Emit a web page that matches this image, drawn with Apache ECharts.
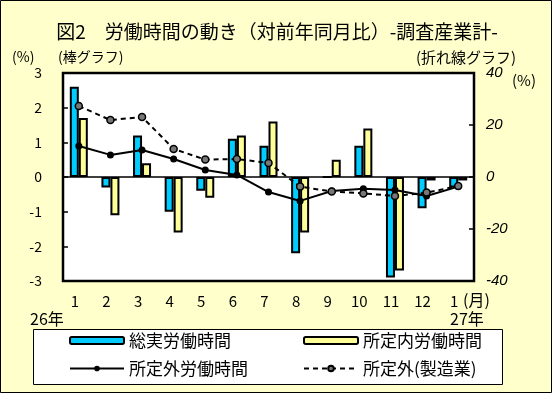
<!DOCTYPE html>
<html><head><meta charset="utf-8">
<script src="https://cdn.jsdelivr.net/npm/echarts@6/dist/echarts.min.js"></script>
<style>html,body{margin:0;padding:0;background:#FFFFCC;}#c{width:552px;height:393px;}</style>
</head><body><div id="c"></div>
<script>
const months = ['1','2','3','4','5','6','7','8','9','10','11','12','1'];
const totalHours = [2.6,-0.3,1.2,-1.0,-0.4,1.1,0.9,-2.2,0.0,0.9,-2.9,-0.9,-0.3];
const scheduledHours = [1.7,-1.1,0.4,-1.6,-0.6,1.2,1.6,-1.6,0.5,1.4,-2.7,-0.1,-0.1];
const overtimeHours = [11.9,8.5,10.4,6.9,2.7,0.8,-5.8,-9.2,-5.4,-4.5,-5.0,-7.3,-3.7];
const overtimeMfg = [27.3,21.9,23.1,10.8,6.7,6.9,5.4,-3.7,-5.6,-6.3,-7.3,-6.0,-3.5];
const leftTicks = [-3,3,1];
const rightTicks = [-40,40,20];

const FONT = '"Noto Sans CJK JP", sans-serif';
const chart = echarts.init(document.getElementById('c'));
chart.setOption({
  backgroundColor: '#FFFFCC',
  animation: false,
  textStyle: {fontFamily: FONT},
  grid: {left: 63, right: 78, top: 73, bottom: 112, show: true, backgroundColor: '#fff', borderColor: '#000', borderWidth: 2.5},
  graphic: [
    {type:'rect', shape:{x:0.5,y:0.5,width:551,height:392}, style:{fill:null, stroke:'#000', lineWidth:1}, z:-1},
    {type:'text', x:277, y:32, style:{text:'図2　労働時間の動き（対前年同月比）-調査産業計-', font:'19px '+FONT, fill:'#000', align:'center', verticalAlign:'middle'}},
    {type:'text', x:12, y:57, style:{text:'(%)', font:'14px '+FONT, fill:'#000', verticalAlign:'middle'}},
    {type:'text', x:58, y:57, style:{text:'(棒グラフ)', font:'14px '+FONT, fill:'#000', verticalAlign:'middle'}},
    {type:'text', x:416, y:57, style:{text:'(折れ線グラフ)', font:'15px '+FONT, fill:'#000', verticalAlign:'middle'}},
    {type:'text', x:512, y:80, style:{text:'(%)', font:'15px '+FONT, fill:'#000', verticalAlign:'middle'}},
    {type:'text', x:463, y:300, style:{text:'(月)', font:'16px '+FONT, fill:'#000', verticalAlign:'middle'}},
    {type:'text', x:30, y:319, style:{text:'26年', font:'16px '+FONT, fill:'#000', verticalAlign:'middle'}},
    {type:'text', x:450, y:319, style:{text:'27年', font:'16px '+FONT, fill:'#000', verticalAlign:'middle'}},
    {type:'rect', shape:{x:33.5,y:329.5,width:469,height:55}, style:{fill:'#fff', stroke:'#000', lineWidth:1}, z:0}
  ],
  legend: [
    {data:['総実労働時間','所定外労働時間'], orient:'vertical', left:64, top:327, itemWidth:54, itemHeight:7, itemGap:11,
     textStyle:{fontSize:17, fontFamily:FONT, color:'#000'}, z:5},
    {data:['所定内労働時間','所定外(製造業)'], orient:'vertical', left:298, top:327, itemWidth:54, itemHeight:7, itemGap:11,
     textStyle:{fontSize:17, fontFamily:FONT, color:'#000'}, z:5}
  ],
  xAxis: {type:'category', data: months, axisTick:{show:false},
    axisLine:{lineStyle:{color:'#000', width:1.5}},
    axisLabel:{color:'#000', fontSize:15, margin:13, fontFamily:FONT, interval:0, padding:[0,8,0,0]}},
  yAxis: [
    {type:'value', min:leftTicks[0], max:leftTicks[1], interval:leftTicks[2], splitLine:{show:false},
     axisLine:{show:false}, axisTick:{show:true, inside:true, length:5, lineStyle:{color:'#000', width:1.5}},
     axisLabel:{color:'#000', fontSize:14, margin:21, fontFamily:FONT}},
    {type:'value', min:rightTicks[0], max:rightTicks[1], interval:rightTicks[2], splitLine:{show:false},
     axisLine:{show:false}, axisTick:{show:true, inside:true, length:5, lineStyle:{color:'#000', width:1.5}},
     axisLabel:{color:'#000', fontSize:15, margin:12, fontStyle:'italic', fontFamily:'"Liberation Sans", sans-serif'}}
  ],
  series: [
    {name:'総実労働時間', type:'bar', data: totalHours, barWidth:9, barGap:'0%',
     itemStyle:{color:'#00CCFF', borderColor:'#000', borderWidth:2}},
    {name:'所定内労働時間', type:'bar', data: scheduledHours, barWidth:9, barGap:'0%',
     itemStyle:{color:'#FFFF99', borderColor:'#000', borderWidth:2}},
    {name:'所定外労働時間', type:'line', yAxisIndex:1, data: overtimeHours, symbol:'circle', symbolSize:7,
     lineStyle:{color:'#000', width:2}, itemStyle:{color:'#000'}, z:5},
    {name:'所定外(製造業)', type:'line', yAxisIndex:1, data: overtimeMfg, symbol:'circle', symbolSize:7,
     lineStyle:{color:'#000', width:2, type:[5,4]}, itemStyle:{color:'#777', borderColor:'#000', borderWidth:1.5}, z:5}
  ]
});
</script></body></html>
